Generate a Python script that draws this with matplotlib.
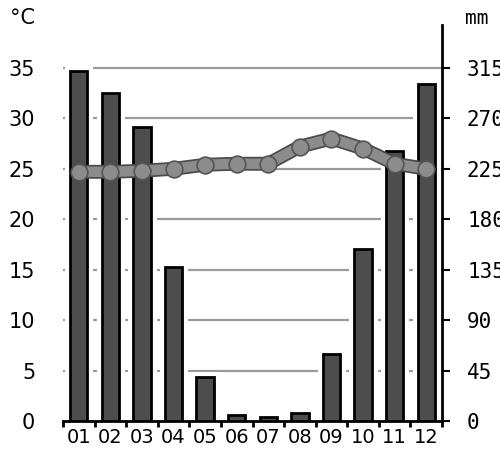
import matplotlib
matplotlib.use("Agg")
import matplotlib.pyplot as plt
import numpy as np

months = ["01", "02", "03", "04", "05", "06", "07", "08", "09", "10", "11", "12"]
precip_mm = [312, 293, 262, 137, 39, 5, 4, 7, 60, 153, 241, 301]
temp_c = [24.7, 24.7, 24.8, 25.0, 25.4, 25.5, 25.5, 27.2, 28.0, 27.0, 25.5, 25.0]
temp_ticks = [0, 5, 10, 15, 20, 25, 30, 35]
mm_ticks = [0, 45, 90, 135, 180, 225, 270, 315]

fig = plt.figure(figsize=(5, 4.59), dpi=100)
ax = fig.add_axes([0.126, 0.0828, 0.758, 0.8627])
axt = ax.twinx()
x = np.arange(1, len(months) + 1)

top_c = 39.25
ax.set_xlim(0.5, 12.5)
ax.set_ylim(0, top_c * 9)

# grid lines (mm axis coincides with °C axis)
for t in mm_ticks[1:]:
    ax.axhline(t, color="#9a9a9a", lw=1.6, zorder=1)

# white halo under bars, then bars
ax.bar(x, precip_mm, width=0.55, color="white", edgecolor="white", lw=8, zorder=2)
ax.bar(x, precip_mm, width=0.55, color="#4d4d4d", edgecolor="black", lw=2, zorder=3)

for s in ["top", "left"]:
    ax.spines[s].set_visible(False)
ax.spines["bottom"].set_linewidth(2)
ax.spines["right"].set_linewidth(2)

ax.yaxis.tick_right()
ax.yaxis.set_label_position("right")
ax.set_yticks(mm_ticks)
ax.set_yticklabels([str(v) for v in mm_ticks], family="DejaVu Sans Mono", fontsize=15)
ax.tick_params(axis="y", which="major", direction="out", length=6, width=1.5, pad=12,
               left=False, labelleft=False, right=True, labelright=True)

ax.set_xticks(x)
ax.set_xticklabels(months, fontsize=14)
ax.set_xticks(np.arange(0.5, 13.0, 1.0), minor=True)
ax.tick_params(axis="x", which="major", length=0, pad=5)
ax.tick_params(axis="x", which="minor", direction="out", length=4.5, width=2)

axt.set_ylim(0, top_c)
axt.yaxis.tick_left()
for s in ["top", "left", "right", "bottom"]:
    axt.spines[s].set_visible(False)
axt.set_yticks(temp_ticks)
axt.set_yticklabels([str(v) for v in temp_ticks], fontsize=15)
axt.tick_params(axis="y", length=0, pad=20, right=False, labelright=False,
                left=True, labelleft=True)
axt.plot(x, temp_c, color="#4a4a4a", lw=10, solid_capstyle="butt", zorder=4)
axt.plot(x, temp_c, color="#8c8c8c", lw=7.5, marker="o", ms=12,
         mfc="#8c8c8c", mec="#555555", mew=1.2, zorder=5)

fig.text(0.02, 0.96, "°C", fontsize=15, ha="left", va="center")
fig.text(0.93, 0.96, "mm", fontsize=14, family="DejaVu Sans Mono", ha="left", va="center")

fig.savefig("out.png", dpi=100)
